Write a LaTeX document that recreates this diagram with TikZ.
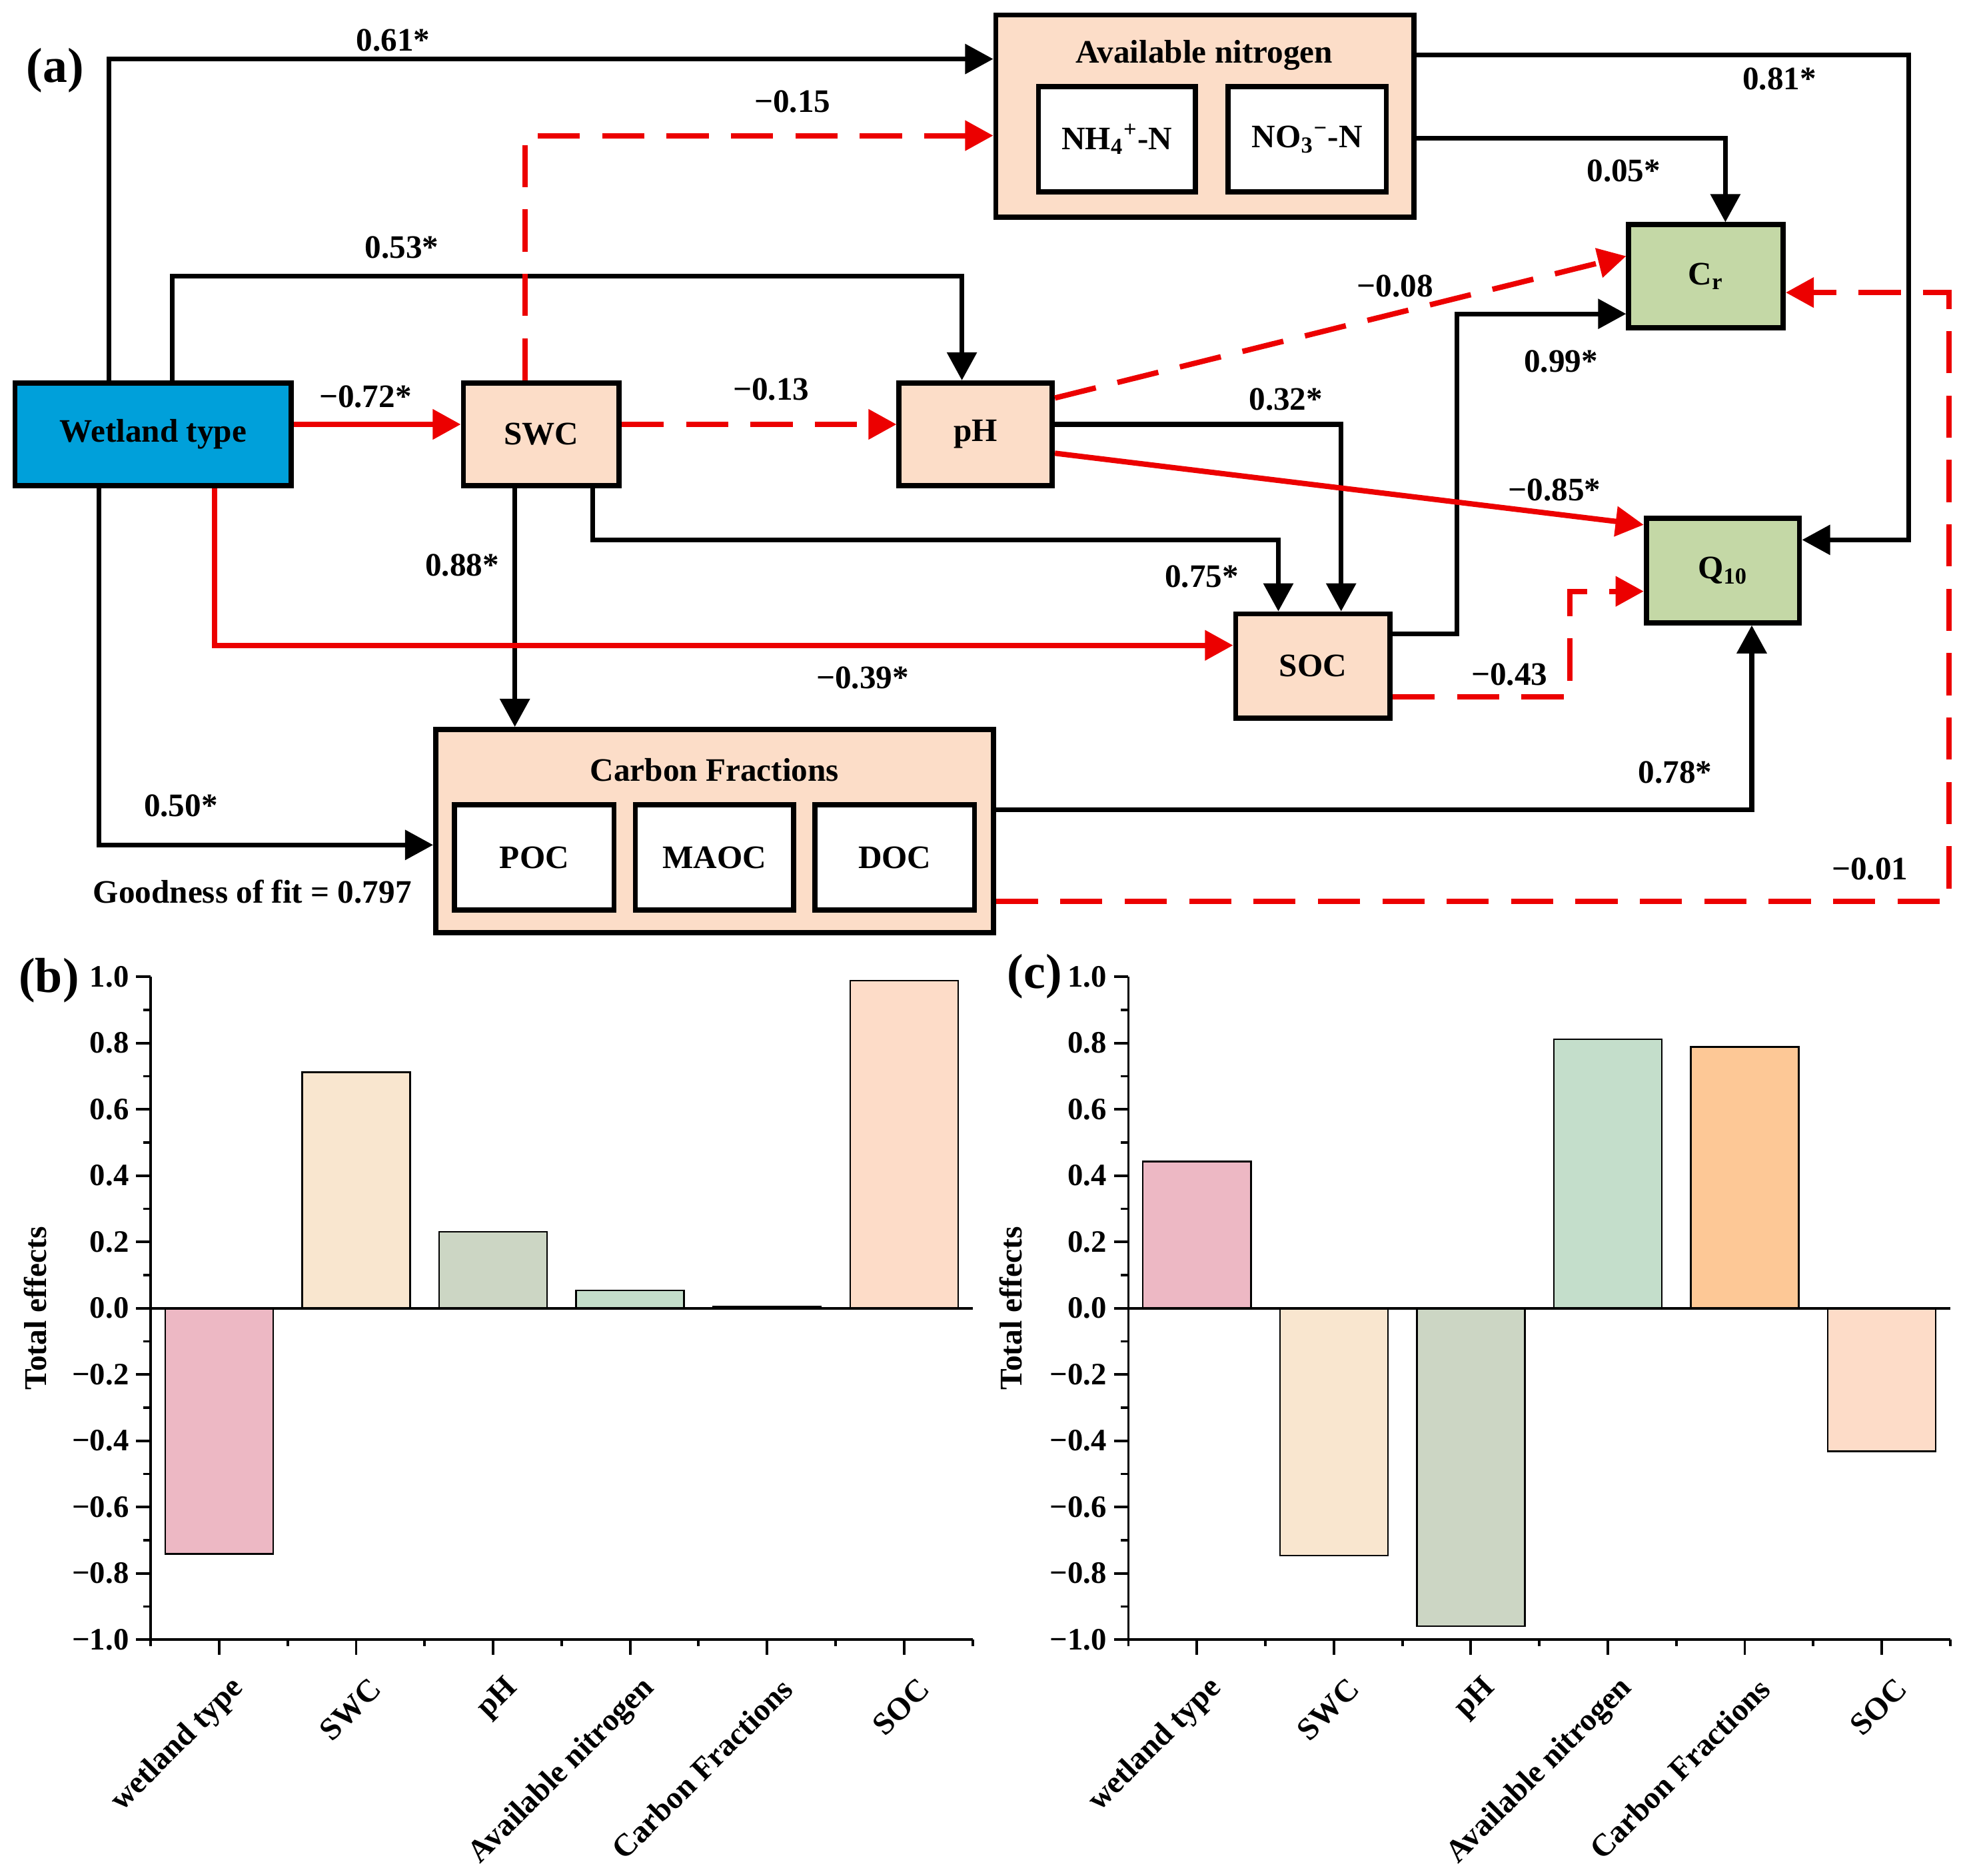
\documentclass[tikz,border=0pt]{standalone}
\usepackage{fontspec}
\setmainfont{Liberation Serif}
\usetikzlibrary{arrows.meta,calc}
\definecolor{wetblue}{RGB}{0,160,218}
\definecolor{peach}{RGB}{252,221,200}
\definecolor{sage}{RGB}{196,216,166}
\definecolor{redl}{RGB}{236,0,0}
\definecolor{barpink}{RGB}{237,184,196}
\definecolor{barbeige}{RGB}{249,230,207}
\definecolor{bargray}{RGB}{204,214,196}
\definecolor{bargreen}{RGB}{196,222,203}
\definecolor{barorange}{RGB}{253,200,150}
\definecolor{barpeach}{RGB}{253,220,200}
\newdimen\ovu \ovu=0.018846cm
\newcommand\effchart[3]{%
 \begin{scope}[shift={(#1,0)}]
  \foreach \i/\v/\c in {#3}{%
    \pgfmathsetmacro\xc{109.08*(\i+0.5)}%
    \pgfmathsetmacro\yv{1042-264*\v}%
    \filldraw[barst, fill=\c] (\xc-43,1042) rectangle (\xc+43,\yv);}
  \draw[axst] (0,778) -- (0,1306) -- (654.5,1306);
  \draw[axst] (-11.5,1042) -- (654.5,1042);
  \foreach \k in {0,...,10}{\draw[axst] (-11.5,778+52.8*\k) -- (0,778+52.8*\k);}
  \foreach \k in {0,...,9}{\draw[axst] (-6,804.4+52.8*\k) -- (0,804.4+52.8*\k);}
  \foreach \k in {0,...,6}{\draw[axst] (109.08*\k,1306) -- (109.08*\k,1311);}
  \foreach \k in {0,...,5}{\draw[axst] (109.08*\k+54.54,1306) -- (109.08*\k+54.54,1318);}
  \foreach \k/\t in {0/1.0,1/0.8,2/0.6,3/0.4,4/0.2,5/0.0,6/−0.2,7/−0.4,8/−0.6,9/−0.8,10/−1.0}{%
    \node[ytl] (#2yt\k) at (-17,778+52.8*\k) {\t};}
  \foreach \k/\t in {0/wetland type,1/SWC,2/pH,3/Available nitrogen,4/Carbon Fractions,5/SOC}{%
    \node[xtl] (#2xt\k) at (109.08*\k+54.54+16,1341) {\t};}
 \end{scope}
}
\begin{document}
\begin{tikzpicture}[x=0.018846cm, y=-0.018846cm,
  box/.style={draw=black, line width=2.2pt, inner sep=0pt,
    font=\fontsize{14}{16}\selectfont\bfseries},
  lbl/.style={inner sep=0pt, font=\fontsize{14}{16}\selectfont\bfseries},
  pan/.style={inner sep=0pt, font=\fontsize{21}{24}\selectfont\bfseries},
  blk/.style={draw=black, line width=2pt, -{Triangle[length=12pt,width=12.5pt]}},
  rsol/.style={draw=redl, line width=2.3pt, -{Triangle[length=12pt,width=12.5pt]}},
  rdsh/.style={rsol, dash pattern=on 18pt off 9.5pt},
  axst/.style={draw=black, line width=1.1pt},
  barst/.style={draw=black, line width=0.7pt},
  ytl/.style={anchor=east, inner sep=0pt, font=\fontsize{13.3}{15}\selectfont\bfseries},
  xtl/.style={anchor=east, rotate=45, inner sep=0pt, font=\fontsize{13.5}{15}\selectfont\bfseries},
  ylab/.style={rotate=90, inner sep=0pt, font=\fontsize{13.5}{15}\selectfont\bfseries}]
\useasboundingbox (0,0) rectangle (1568,1494);

% ---------- panel (a) boxes ----------
\node[box, fill=wetblue, minimum width=220\ovu, minimum height=82\ovu] (wet) at (122,346) {Wetland type};
\node[box, fill=peach, minimum width=124\ovu, minimum height=82\ovu] (swc) at (431,346) {SWC};
\node[box, fill=peach, minimum width=122\ovu, minimum height=82\ovu] (ph) at (777,346) {pH};
\node[box, fill=peach, minimum width=333\ovu, minimum height=161\ovu] (avn) at (959.5,92.5) {};
\node[box, fill=white, minimum width=125\ovu, minimum height=84\ovu] (nh4) at (889.5,111) {NH\textsubscript{4}\textsuperscript{+}-N};
\node[box, fill=white, minimum width=126\ovu, minimum height=84\ovu] (no3) at (1041,111) {NO\textsubscript{3}\textsuperscript{−}-N};
\node[box, fill=sage, minimum width=123\ovu, minimum height=82\ovu] (cr) at (1358.5,220) {C\textsubscript{r}};
\node[box, fill=sage, minimum width=122\ovu, minimum height=83\ovu] (q10) at (1372,454.5) {Q\textsubscript{10}};
\node[box, fill=peach, minimum width=123\ovu, minimum height=83\ovu] (soc) at (1045.5,530.5) {SOC};
\node[box, fill=peach, minimum width=444\ovu, minimum height=162\ovu] (cf) at (569,662) {};
\node[box, fill=white, minimum width=127\ovu, minimum height=84\ovu] (poc) at (425.5,683) {POC};
\node[box, fill=white, minimum width=126\ovu, minimum height=84\ovu] (maoc) at (569,683) {MAOC};
\node[box, fill=white, minimum width=127\ovu, minimum height=84\ovu] (doc) at (712.5,683) {DOC};
\node[lbl] (avnt) at (959,44) {Available nitrogen};
\node[lbl] (cft) at (569,613) {Carbon Fractions};

% ---------- black connectors ----------
\draw[blk] (wet.north -| 87,0) |- (avn.west |- 0,47);
\draw[blk] (wet.north -| 137,0) |- (766,220) -- (ph.north -| 766,0);
\draw[blk] (ph.east |- 0,338) -| (soc.north -| 1068,0);
\draw[blk] (swc.south -| 472,0) |- (1018,430) -- (soc.north -| 1018,0);
\draw[blk] (swc.south -| 410,0) -- (cf.north -| 410,0);
\draw[blk] (wet.south -| 79,0) |- (cf.west |- 0,673);
\draw[blk] (soc.east |- 0,505) -| (1160,250) -- (cr.west |- 0,250);
\draw[blk] (avn.east |- 0,44) -| (1520,430) -- (q10.east |- 0,430);
\draw[blk] (avn.east |- 0,110) -| (cr.north -| 1374,0);
\draw[blk] (cf.east |- 0,645) -| (q10.south -| 1395,0);

% ---------- red connectors ----------
\draw[rsol] (wet.east |- 0,338) -- (swc.west |- 0,338);
\draw[rsol] (wet.south -| 171,0) |- (soc.west |- 0,514);
\draw[rsol] (ph.east |- 0,361) -- (q10.west |- 0,418);
\draw[rdsh] (swc.north -| 418,0) |- (avn.west |- 0,108);
\draw[rdsh] (swc.east |- 0,338) -- (ph.west |- 0,338);
\draw[rdsh] (ph.east |- 0,317) -- (cr.west |- 0,204);
\draw[rdsh] (soc.east |- 0,555) -| (1250,471) -- (q10.west |- 0,471);
\draw[rdsh] (cf.east |- 0,718) -| (1552,233) -- (cr.east |- 0,233);

% ---------- path labels ----------
\node[lbl] (l1) at (313,32) {0.61*};
\node[lbl] (l2) at (631,81) {−0.15};
\node[lbl] (l3) at (320,197) {0.53*};
\node[lbl] (l4) at (291,316) {−0.72*};
\node[lbl] (l5) at (614,310) {−0.13};
\node[lbl] (l6) at (1111,228) {−0.08};
\node[lbl] (l7) at (1024,318) {0.32*};
\node[lbl] (l8) at (1238,390) {−0.85*};
\node[lbl] (l9) at (957,459) {0.75*};
\node[lbl] (l10) at (687,540) {−0.39*};
\node[lbl] (l11) at (368,450) {0.88*};
\node[lbl] (l12) at (144,642) {0.50*};
\node[lbl] (l13) at (1243,288) {0.99*};
\node[lbl] (l14) at (1202,537) {−0.43};
\node[lbl] (l15) at (1417,63) {0.81*};
\node[lbl] (l16) at (1293,136) {0.05*};
\node[lbl] (l17) at (1334,615) {0.78*};
\node[lbl] (l18) at (1489,692) {−0.01};
\node[lbl] (gof) at (201,710) {Goodness of fit = 0.797};

% ---------- panel labels ----------
\node[pan] (pa) at (44,56) {(a)};
\node[pan] (pb) at (39,781) {(b)};
\node[pan] (pc) at (824,778) {(c)};

% ---------- charts ----------
\effchart{120}{b}{0/-0.741/barpink,1/0.712/barbeige,2/0.231/bargray,3/0.054/bargreen,4/0.005/barorange,5/0.988/barpeach}
\effchart{898.6}{c}{0/0.443/barpink,1/-0.746/barbeige,2/-0.959/bargray,3/0.812/bargreen,4/0.788/barorange,5/-0.432/barpeach}
\node[ylab] (bylab) at (28,1042) {Total effects};
\node[ylab] (cylab) at (805,1042) {Total effects};
\end{tikzpicture}
\end{document}
